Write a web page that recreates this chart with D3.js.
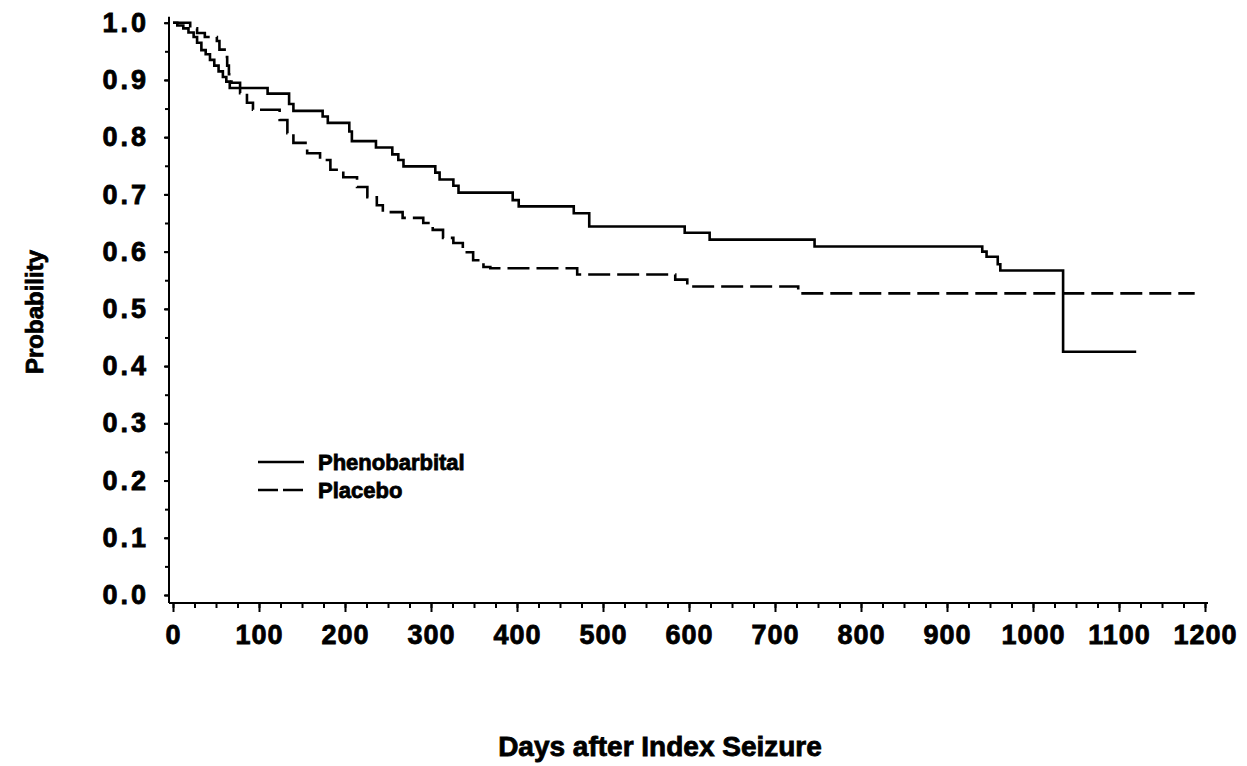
<!DOCTYPE html>
<html lang="en">
<head>
    <meta charset="UTF-8">
    <title>Seizure Recurrence</title>
    <script src="https://d3js.org/d3.v7.min.js"></script>
    <style>
        body { margin: 0; background: #fff; }
        svg text {
            font-family: "Liberation Sans", Arial, sans-serif;
            font-weight: bold;
            fill: #000;
            stroke: #000;
            stroke-width: 0.8px;
        }
        .tick line, .axis-line { stroke: #000; stroke-width: 2px; }
        .curve { fill: none; stroke: #000; stroke-width: 2.6px; }
    </style>
</head>
<body>
<svg id="chart" width="1247" height="766"></svg>
<script>
// survival steps: [day, probability after the step]
var phenoSteps = [
    [0, 1.000], [5, 0.995], [12, 0.990], [18, 0.983], [24, 0.975], [28, 0.965],
    [33, 0.952], [38, 0.945], [43, 0.935], [48, 0.925], [53, 0.915], [58, 0.905],
    [62, 0.897], [66, 0.886], [110, 0.876], [135, 0.858], [140, 0.846], [174, 0.836],
    [180, 0.825], [205, 0.810], [208, 0.793], [236, 0.782], [255, 0.770], [262, 0.760],
    [268, 0.749], [305, 0.738], [310, 0.726], [326, 0.715], [332, 0.703], [395, 0.690],
    [402, 0.679], [466, 0.667], [484, 0.644], [595, 0.633], [624, 0.621], [746, 0.609],
    [941, 0.600], [946, 0.591], [959, 0.578], [962, 0.567], [1035, 0.425]
];
var phenoEnd = 1120;

var placeboSteps = [
    [0, 1.000], [20, 0.990], [28, 0.982], [37, 0.975], [51, 0.968], [54, 0.953],
    [60, 0.940], [63, 0.925], [65, 0.910], [68, 0.895], [78, 0.877], [86, 0.860],
    [93, 0.848], [124, 0.830], [133, 0.807], [140, 0.790], [156, 0.772], [171, 0.760],
    [183, 0.743], [198, 0.730], [214, 0.713], [226, 0.695], [237, 0.681], [244, 0.669],
    [267, 0.659], [291, 0.650], [302, 0.638], [314, 0.624], [326, 0.615], [337, 0.599],
    [349, 0.585], [361, 0.573], [369, 0.571], [470, 0.560], [584, 0.551], [598, 0.539],
    [727, 0.527]
];
var placeboEnd = 1188;

var xMajor = d3.range(0, 1201, 100);
var xMinor = d3.range(0, 1201, 25);
var yMajor = d3.range(0, 11).map(function(i) { return i / 10; });
var yMinor = d3.range(0, 21).map(function(i) { return i / 20; });

var legendItems = [
    {name: "Phenobarbital", dash: null},
    {name: "Placebo", dash: "20,5"}
];

var svg = d3.select("#chart");

var x = d3.scaleLinear().domain([0, 1200]).range([173, 1205]);
var y = d3.scaleLinear().domain([0, 1]).range([595, 22.7]);

var xAxisY = 603, yAxisX = 169;

// axis lines (offset a little from the zero lines, as in the original plot)
svg.append("line").attr("class", "axis-line")
    .attr("x1", yAxisX).attr("x2", yAxisX)
    .attr("y1", y(1) - 6).attr("y2", xAxisY);
svg.append("line").attr("class", "axis-line")
    .attr("x1", yAxisX).attr("x2", x(1200) + 3)
    .attr("y1", xAxisY).attr("y2", xAxisY);

// x ticks
svg.append("g")
    .attr("transform", "translate(0," + xAxisY + ")")
    .call(d3.axisBottom(x).tickValues(xMinor).tickSize(5).tickFormat(""))
    .call(function(g) { g.select(".domain").remove(); });
svg.append("g")
    .attr("transform", "translate(0," + xAxisY + ")")
    .call(d3.axisBottom(x).tickValues(xMajor).tickSize(9).tickPadding(13).tickFormat(d3.format("d")))
    .call(function(g) { g.select(".domain").remove(); })
    .selectAll("text").style("font-size", "27px").style("letter-spacing", "1px");

// y ticks
svg.append("g")
    .attr("transform", "translate(" + yAxisX + ",0)")
    .call(d3.axisLeft(y).tickValues(yMinor).tickSize(4).tickFormat(""))
    .call(function(g) { g.select(".domain").remove(); });
svg.append("g")
    .attr("transform", "translate(" + yAxisX + ",0)")
    .call(d3.axisLeft(y).tickValues(yMajor).tickSize(5).tickPadding(15).tickFormat(d3.format(".1f")))
    .call(function(g) { g.select(".domain").remove(); })
    .selectAll("text").style("font-size", "27px").style("letter-spacing", "3px");

// axis titles
svg.append("text")
    .attr("x", 660).attr("y", 756)
    .attr("text-anchor", "middle")
    .style("font-size", "28px")
    .text("Days after Index Seizure");
svg.append("text")
    .attr("transform", "translate(43,312) rotate(-90)")
    .attr("text-anchor", "middle")
    .style("font-size", "24px")
    .text("Probability");

// curves
var line = d3.line()
    .x(function(d) { return x(d[0]); })
    .y(function(d) { return y(d[1]); })
    .curve(d3.curveStepAfter);

function withEnd(steps, end) {
    return steps.concat([[end, steps[steps.length - 1][1]]]);
}

svg.append("path").attr("class", "curve")
    .attr("d", line(withEnd(phenoSteps, phenoEnd)));
svg.append("path").attr("class", "curve")
    .attr("stroke-dasharray", "22,7")
    .attr("d", line(withEnd(placeboSteps, placeboEnd)));

// legend
var legend = svg.append("g").attr("transform", "translate(258,462)");
legendItems.forEach(function(d, i) {
    legend.append("line").attr("class", "curve")
        .attr("x1", 0).attr("x2", 46)
        .attr("y1", i * 28).attr("y2", i * 28)
        .attr("stroke-dasharray", d.dash);
    legend.append("text")
        .attr("x", 60).attr("y", i * 28 + 8)
        .style("font-size", "22px")
        .text(d.name);
});
</script>
</body>
</html>
